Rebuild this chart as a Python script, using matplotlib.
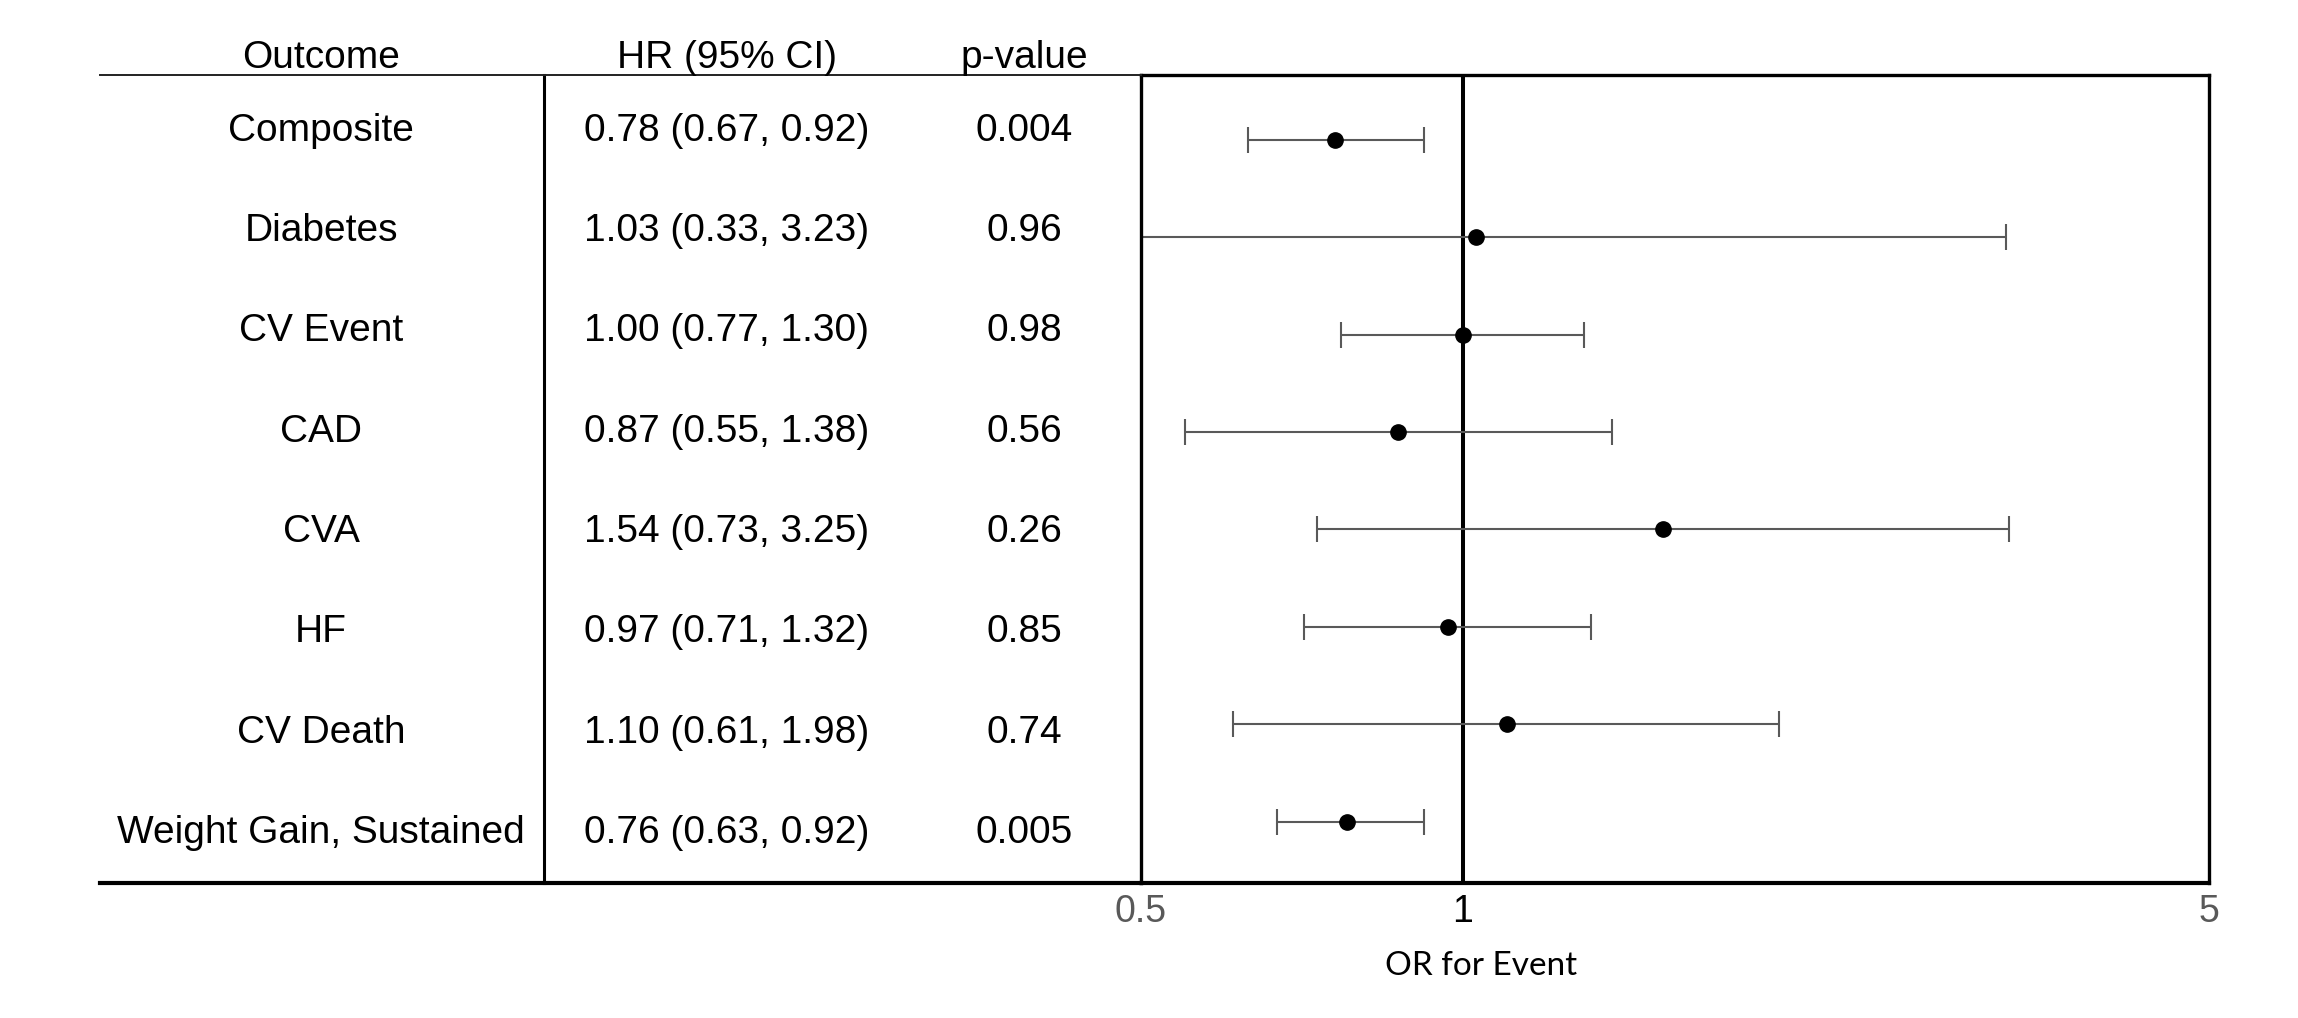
import matplotlib
matplotlib.use("Agg")
import matplotlib.pyplot as plt
from matplotlib.lines import Line2D

# -------- data --------
outcomes = ["Composite", "Diabetes", "CV Event", "CAD", "CVA", "HF",
            "CV Death", "Weight Gain, Sustained"]
hr_text = ["0.78 (0.67, 0.92)", "1.03 (0.33, 3.23)", "1.00 (0.77, 1.30)",
           "0.87 (0.55, 1.38)", "1.54 (0.73, 3.25)", "0.97 (0.71, 1.32)",
           "1.10 (0.61, 1.98)", "0.76 (0.63, 0.92)"]
p_text = ["0.004", "0.96", "0.98", "0.56", "0.26", "0.85", "0.74", "0.005"]

# marks as drawn in the picture (first and last rows appear swapped there)
est = [0.76, 1.03, 1.00, 0.87, 1.54, 0.97, 1.10, 0.78]
ci_lo = [0.63, 0.33, 0.77, 0.55, 0.73, 0.71, 0.61, 0.67]
ci_hi = [0.92, 3.23, 1.30, 1.38, 3.25, 1.32, 1.98, 0.92]

headers = ["Outcome", "HR (95% CI)", "p-value"]
xticks = [0.5, 1, 5]
xtick_labels = ["0.5", "1", "5"]

# -------- layout --------
W, H = 2298, 1018
fig = plt.figure(figsize=(W / 100, H / 100), dpi=100)

ax_left, ax_right = 1141 / W, 2209 / W
ax_bottom, ax_top = 1 - 883 / H, 1 - 75 / H
tbl_left = 100 / W

ax = fig.add_axes([ax_left, ax_bottom, ax_right - ax_left, ax_top - ax_bottom])
tb = fig.add_axes([tbl_left, ax_bottom, ax_left - tbl_left, ax_top - ax_bottom])

n = len(outcomes)
rows = list(range(n, 0, -1))
# the marks sit on a slightly tighter grid than the table text
plot_ylim = (0.37, n + 0.664)
tbl_ylim = (0.462, n + 0.518)

# -------- forest panel --------
ax.set_xscale("log")
ax.set_xlim(0.5, 5)
ax.set_ylim(*plot_ylim)
ax.axvline(1, color="black", lw=2.9, zorder=1)

xerr = [[e - l for e, l in zip(est, ci_lo)], [h - e for e, h in zip(est, ci_hi)]]
ax.errorbar(est, rows, xerr=xerr, fmt="none", ecolor="#595959",
            elinewidth=1.5, capsize=9.5, capthick=1.5, zorder=2)
ax.plot(est, rows, "o", color="black", ms=11, zorder=3)

ax.set_xticks(xticks)
ax.set_xticklabels(xtick_labels)
ax.xaxis.set_minor_locator(matplotlib.ticker.NullLocator())
ax.tick_params(axis="x", length=0, pad=8, labelsize=27, labelcolor="#595959")
for lab in ax.get_xticklabels():
    lab.set_family("Liberation Sans")
ax.get_xticklabels()[1].set_color("black")
ax.set_yticks([])
ax.set_xlabel("OR for Event", fontsize=24, family="Lato")
ax.xaxis.set_label_coords(0.318, -0.084)

for side in ["left", "right", "top"]:
    ax.spines[side].set_linewidth(2.4)
ax.spines["bottom"].set_linewidth(3.0)

# -------- table panel --------
tb.set_xlim(0, 1)
tb.set_ylim(*tbl_ylim)
tb.axis("off")

span = 1141 - 100
col_x = [(321 - 100) / span, (727 - 100) / span, (1024 - 100) / span]
font = dict(fontsize=28, family="Liberation Sans", ha="center", va="baseline")
# put the baseline half a cap height below the row centre
half_cap = 0.139

for y, name, hr, p in zip(rows, outcomes, hr_text, p_text):
    tb.text(col_x[0], y - half_cap, name, **font)
    tb.text(col_x[1], y - half_cap, hr, **font)
    tb.text(col_x[2], y - half_cap, p, **font)

head_y = tbl_ylim[1] + 0.07
for x, h in zip(col_x, headers):
    tb.text(x, head_y, h, clip_on=False, **font)

div_x = (544 - 100) / span
tb.add_line(Line2D([div_x, div_x], [tbl_ylim[0], tbl_ylim[1]], color="black",
                   lw=2.2, clip_on=False))
tb.add_line(Line2D([0, 1], [tbl_ylim[1], tbl_ylim[1]], color="#222222",
                   lw=1.4, clip_on=False))
tb.add_line(Line2D([0, 1], [tbl_ylim[0], tbl_ylim[0]], color="black",
                   lw=3.0, clip_on=False))

fig.savefig("out.png", dpi=100)
